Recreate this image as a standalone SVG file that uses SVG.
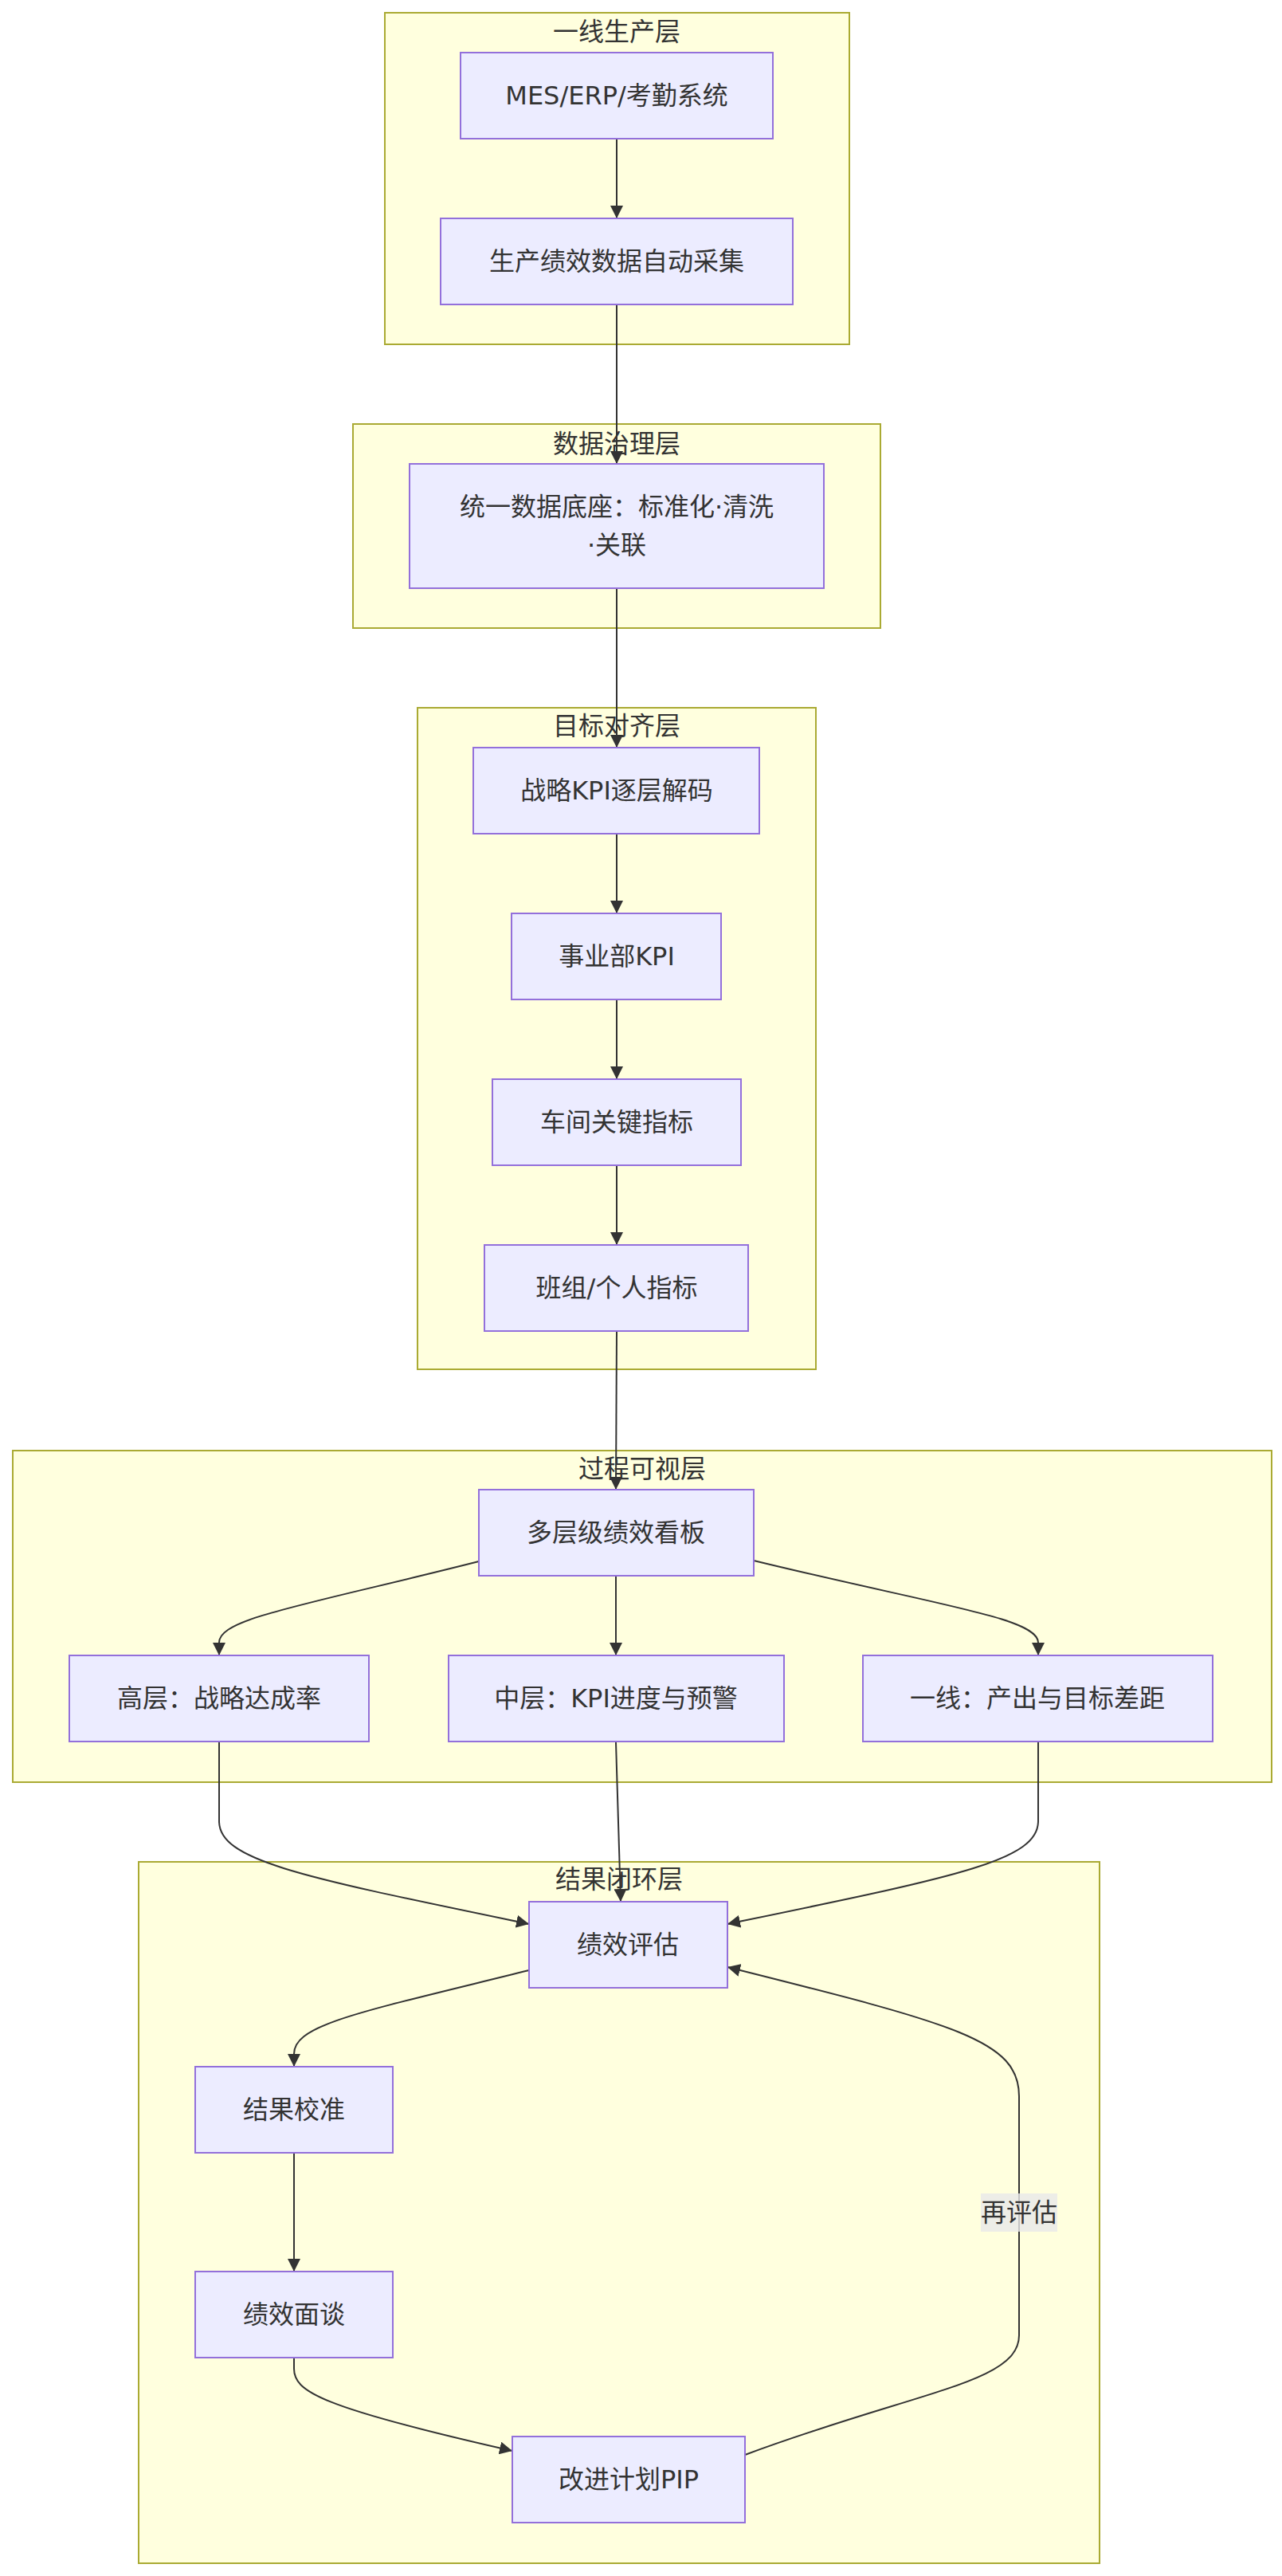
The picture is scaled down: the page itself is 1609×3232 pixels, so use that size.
<svg xmlns="http://www.w3.org/2000/svg" width="1609" height="3232" viewBox="0 0 1609 3232">
<style>
.cluster rect{fill:#ffffde;stroke:#aaaa33;stroke-width:2}
.node rect{fill:#ECECFF;stroke:#9370DB;stroke-width:2}
text{font-family:"DejaVu Sans","Noto Sans CJK SC",sans-serif;font-size:32px;fill:#333333;text-anchor:middle;dominant-baseline:central}
.edge{fill:none;stroke:#333333;stroke-width:2;marker-end:url(#arrow)}
.elabel rect{fill:#e8e8e8;fill-opacity:0.8}
</style>
<defs>
<marker id="arrow" viewBox="0 0 10 10" refX="10" refY="5" markerUnits="userSpaceOnUse" markerWidth="16" markerHeight="16" orient="auto">
<path d="M0,0 L10,5 L0,10 z" fill="#333333"/>
</marker>
</defs>
<rect width="1609" height="3232" fill="#ffffff"/>

<g id="clusters">
<g id="cluster-production" class="cluster"><rect x="483" y="16" width="583" height="416"/><text x="774" y="40">一线生产层</text></g>
<g id="cluster-data" class="cluster"><rect x="443" y="532" width="662" height="256"/><text x="774" y="557">数据治理层</text></g>
<g id="cluster-target" class="cluster"><rect x="524" y="888" width="500" height="830"/><text x="774" y="911">目标对齐层</text></g>
<g id="cluster-visual" class="cluster"><rect x="16" y="1820" width="1580" height="416"/><text x="806" y="1843">过程可视层</text></g>
<g id="cluster-result" class="cluster"><rect x="174" y="2336" width="1206" height="880"/><text x="777" y="2358">结果闭环层</text></g>
</g>

<g id="connectors">
<path class="edge" d="M774,174 L774,274"/>
<path class="edge" d="M774,382 L774,582"/>
<path class="edge" d="M774,738 L774,938"/>
<path class="edge" d="M774,1046 L774,1146"/>
<path class="edge" d="M774,1254 L774,1354"/>
<path class="edge" d="M774,1462 L774,1562"/>
<path class="edge" d="M774,1670 L773,1869"/>
<path class="edge" d="M601,1959 C380,2015 275,2030 275,2061 L275,2077"/>
<path class="edge" d="M773,1977 L773,2077"/>
<path class="edge" d="M946,1958 C1180,2015 1303,2030 1303,2061 L1303,2077"/>
<path class="edge" d="M275,2186 L275,2285 C275,2335 380,2355 664,2414"/>
<path class="edge" d="M773,2186 L779,2386"/>
<path class="edge" d="M1303,2186 L1303,2285 C1303,2335 1198,2355 913,2414"/>
<path class="edge" d="M664,2472 C450,2525 369,2540 369,2577 L369,2593"/>
<path class="edge" d="M369,2701 L369,2850"/>
<path class="edge" d="M369,2958 L369,2972 C369,3000 400,3020 643,3075"/>
<path class="edge" d="M935,3080 C1150,3000 1279,2990 1279,2930 L1279,2630 C1279,2560 1200,2540 913,2468"/>
<g class="elabel"><rect x="1231" y="2752" width="96" height="48"/><text x="1279" y="2776">再评估</text></g>
</g>

<g id="nodes">
<g id="n-mes" class="node"><rect x="578" y="66" width="392" height="108"/><text x="774" y="120">MES/ERP/考勤系统</text></g>
<g id="n-collect" class="node"><rect x="553" y="274" width="442" height="108"/><text x="774" y="328">生产绩效数据自动采集</text></g>
<g id="n-base" class="node"><rect x="514" y="582" width="520" height="156"/><text x="774" y="636">统一数据底座：标准化·清洗</text><text x="774" y="684">·关联</text></g>
<g id="n-kpi" class="node"><rect x="594" y="938" width="359" height="108"/><text x="774" y="992">战略KPI逐层解码</text></g>
<g id="n-bu" class="node"><rect x="642" y="1146" width="263" height="108"/><text x="774" y="1200">事业部KPI</text></g>
<g id="n-shop" class="node"><rect x="618" y="1354" width="312" height="108"/><text x="774" y="1408">车间关键指标</text></g>
<g id="n-team" class="node"><rect x="608" y="1562" width="331" height="108"/><text x="774" y="1616">班组/个人指标</text></g>
<g id="n-board" class="node"><rect x="601" y="1869" width="345" height="108"/><text x="773" y="1923">多层级绩效看板</text></g>
<g id="n-high" class="node"><rect x="87" y="2077" width="376" height="108"/><text x="275" y="2131">高层：战略达成率</text></g>
<g id="n-mid" class="node"><rect x="563" y="2077" width="421" height="108"/><text x="773" y="2131">中层：KPI进度与预警</text></g>
<g id="n-line" class="node"><rect x="1083" y="2077" width="439" height="108"/><text x="1302" y="2131">一线：产出与目标差距</text></g>
<g id="n-eval" class="node"><rect x="664" y="2386" width="249" height="108"/><text x="788" y="2440">绩效评估</text></g>
<g id="n-calib" class="node"><rect x="245" y="2593" width="248" height="108"/><text x="369" y="2647">结果校准</text></g>
<g id="n-talk" class="node"><rect x="245" y="2850" width="248" height="108"/><text x="369" y="2904">绩效面谈</text></g>
<g id="n-pip" class="node"><rect x="643" y="3057" width="292" height="108"/><text x="789" y="3111">改进计划PIP</text></g>
</g>
</svg>
